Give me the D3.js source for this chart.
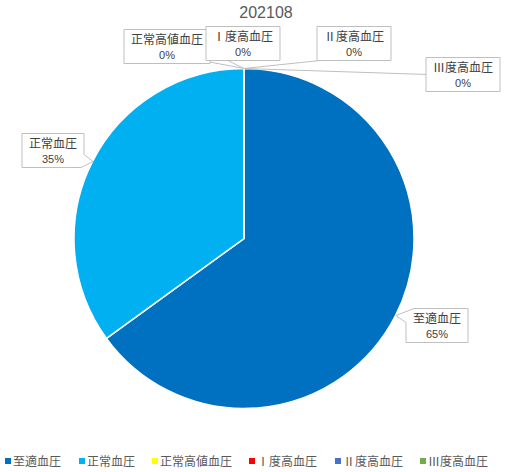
<!DOCTYPE html>
<html>
<head>
<meta charset="utf-8">
<script src="https://cdn.jsdelivr.net/npm/d3@7"></script>
<style>
  body { margin: 0; background: #fff; }
  text { font-family: "Noto Sans CJK JP", "Noto Sans", sans-serif; }
</style>
</head>
<body>
<div id="chart"></div>
<script>
// ----------------------
// Data
// ----------------------
const title = "202108";
const categories = ["至適血圧", "正常血圧", "正常高値血圧", "Ⅰ度高血圧", "Ⅱ度高血圧", "Ⅲ度高血圧"];
const shares = [65, 35, 0, 0, 0, 0];
const colors = ["#0070C0", "#00B0F0", "#FFFF00", "#FF0000", "#4472C4", "#70AD47"];

// label box centres, relative to the pie centre (hand placed like in the original)
const labelPos = [[193, 87], [-191, -88], [-77, -192], [-1, -195], [110, -195], [219, -164]];
// where the leader line meets each box (relative to box centre), null = callout pointer
const leaderEnd = [null, null, [40, 15], [-15, 17], [-34, 17], [-35, 0]];

const width = 519, height = 472;
const cx = 244, cy = 238.5, radius = 170;

const svg = d3.select("#chart").append("svg")
    .attr("width", width)
    .attr("height", height);

// Title
svg.append("text")
    .attr("x", 266).attr("y", 18)
    .attr("text-anchor", "middle")
    .attr("font-size", 16)
    .attr("fill", "#595959")
    .style("font-family", "Liberation Sans, sans-serif")
    .text(title);

const g = svg.append("g").attr("transform", `translate(${cx},${cy})`);

const pie = d3.pie().sort(null).value(d => d)(shares);
const arc = d3.arc().innerRadius(0).outerRadius(radius);

g.selectAll("path.slice")
    .data(pie)
    .enter()
    .append("path")
    .attr("class", "slice")
    .attr("d", arc)
    .attr("fill", (d, i) => colors[i])
    .attr("stroke", "#fff")
    .attr("stroke-width", 1.5);

// Leader lines for the 0% slices
pie.forEach((d, i) => {
    if (!leaderEnd[i]) return;
    const a = d.startAngle;
    const sx = radius * Math.sin(a), sy = -radius * Math.cos(a);
    g.append("line")
        .attr("x1", sx).attr("y1", sy)
        .attr("x2", labelPos[i][0] + leaderEnd[i][0])
        .attr("y2", labelPos[i][1] + leaderEnd[i][1])
        .attr("stroke", "#BFBFBF")
        .attr("stroke-width", 1);
});

// Data labels
pie.forEach((d, i) => {
    const [lx, ly] = labelPos[i];
    const lab = g.append("g").attr("transform", `translate(${lx},${ly})`);
    const t1 = lab.append("text")
        .attr("text-anchor", "middle").attr("y", -3)
        .attr("font-size", 12).attr("fill", "#404040")
        .text(categories[i]);
    lab.append("text")
        .attr("text-anchor", "middle").attr("y", 12)
        .attr("font-size", 11).attr("fill", "#404040")
        .style("font-family", "Liberation Sans, sans-serif")
        .text(Math.round(d.value) + "%");
    const w = t1.node().getComputedTextLength() + 14;
    const h = 34;
    const x0 = -w / 2, x1 = w / 2, y0 = -h / 2, y1 = h / 2;
    let path;
    if (i === 0) {
        // pointer at top-left towards the slice
        path = `M${x0 + 8},${y0} L${x1},${y0} L${x1},${y1} L${x0},${y1} L${x0},${y0 + 14} L${x0 - 10},${y0 + 7} Z`;
    } else if (i === 1) {
        // pointer at bottom-right towards the slice
        path = `M${x0},${y0} L${x1},${y0} L${x1},${y0 + 21} L${x1 + 9},${y0 + 28} L${x1 - 3},${y1} L${x0},${y1} Z`;
    } else {
        path = `M${x0},${y0} L${x1},${y0} L${x1},${y1} L${x0},${y1} Z`;
    }
    lab.insert("path", "text")
        .attr("d", path)
        .attr("fill", "#fff")
        .attr("stroke", "#BFBFBF")
        .attr("stroke-width", 1);
});

// Legend
const legendX = [5, 79, 152, 249, 335, 420];
const legend = svg.append("g").attr("transform", "translate(0,461)");
categories.forEach((c, i) => {
    const item = legend.append("g").attr("transform", `translate(${legendX[i]},0)`);
    item.append("rect")
        .attr("x", 0).attr("y", -3)
        .attr("width", 6).attr("height", 6)
        .attr("fill", colors[i]);
    item.append("text")
        .attr("x", 8).attr("y", 4.5)
        .attr("font-size", 12).attr("fill", "#595959")
        .text(c);
});
</script>
</body>
</html>
